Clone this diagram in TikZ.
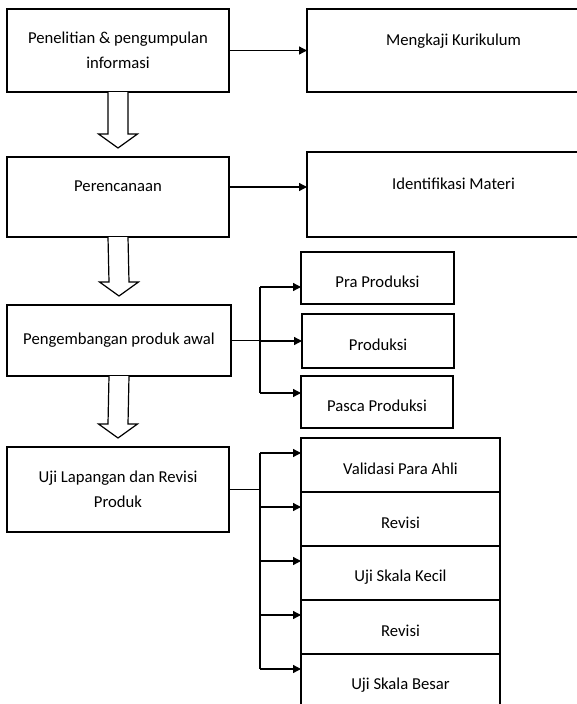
\documentclass[tikz,border=0pt]{standalone}
\usepackage{fontspec}
\setmainfont{Carlito}
\usetikzlibrary{positioning,arrows.meta}

\tikzset{every picture/.style={line width=1pt}}
\tikzset{
	box/.style={draw, rectangle, align=center, inner sep=0pt, outer sep=0pt, font=\fontsize{12.5pt}{18.75pt}\selectfont},
	toptext/.style={text depth=16pt},
	lowtext/.style={text height=15pt},
	stackbox/.style={box, lowtext, minimum width=149.25pt, minimum height=40.5pt},
	arr/.style={-{Triangle[length=6pt,width=6pt]}},
	hollow/.style={draw, fill=white, line width=0.9pt}
}

\begin{document}
\begin{tikzpicture}[x=0.75pt,y=0.75pt,yscale=-1,xscale=1]
	\useasboundingbox (0,0) rectangle (577,704);

	% Left column
	\node [box, minimum width=166.5pt, minimum height=62.25pt] (info) at (118,50.5) {Penelitian \& pengumpulan\\informasi};
	\node [box, toptext, minimum width=166.5pt, minimum height=60pt] (plan) at (118,197) {Perencanaan};
	\node [box, minimum width=168pt, minimum height=53.25pt] (dev) at (119,340.5) {Pengembangan produk awal};
	\node [box, minimum width=166.5pt, minimum height=63.75pt] (uji) at (118,489.5) {Uji Lapangan dan Revisi\\Produk};

	% Right column
	\node [box, toptext, minimum width=219.75pt, minimum height=62.25pt] (kaji) at (453.5,50.5) {Mengkaji Kurikulum};
	\node [box, toptext, minimum width=219.75pt, minimum height=63.75pt] (ident) at (453.5,194.5) {Identifikasi Materi};
	\node [box, lowtext, minimum width=114.75pt, minimum height=39pt] (pra) at (377.5,278) {Pra Produksi};
	\node [box, lowtext, minimum width=114pt, minimum height=40.5pt] (prod) at (378,341) {Produksi};
	\node [box, lowtext, minimum width=114pt, minimum height=39pt] (pasca) at (377,402) {Pasca Produksi};

	% Stack
	\node [stackbox] (val) at (400.5,465) {Validasi Para Ahli};
	\node [stackbox, below=0pt of val] (rev1) {Revisi};
	\node [stackbox, below=0pt of rev1] (kecil) {Uji Skala Kecil};
	\node [stackbox, below=0pt of kecil] (rev2) {Revisi};
	\node [stackbox, below=0pt of rev2] (besar) {Uji Skala Besar};

	% Hollow arrows
	\foreach \a/\b in {info/plan, plan/dev, dev/uji}
		\draw [hollow] ([xshift=-7.5pt]\a.south) -- ([xshift=-7.5pt,yshift=-17.25pt]\b.north) -- ([xshift=-14.6pt,yshift=-17.25pt]\b.north) -- ([yshift=-6.75pt]\b.north) -- ([xshift=14.6pt,yshift=-17.25pt]\b.north) -- ([xshift=7.5pt,yshift=-17.25pt]\b.north) -- ([xshift=7.5pt]\a.south);

	% Straight arrows
	\draw [arr] (info.east) -- (info.east -| kaji.west);
	\coordinate (a2) at ([yshift=-7.5pt]plan.east);
	\draw [arr] (a2) -- (a2 -| ident.west);

	% Branch to production steps
	\coordinate (j1) at ([xshift=21.75pt]dev.east);
	\coordinate (in-pra) at ([yshift=6.75pt]pra.west);
	\coordinate (in-prod) at (prod.west);
	\coordinate (in-pasca) at ([yshift=-6.75pt]pasca.west);
	\draw (dev.east) -- (j1);
	\draw (in-pra -| j1) -- (in-pasca -| j1);
	\foreach \r in {pra, prod, pasca}
		\draw [arr] (in-\r -| j1) -- (in-\r);

	% Branch to test steps
	\coordinate (j2) at ([xshift=23.25pt]uji.east);
	\foreach \r in {val, rev1, kecil, rev2, besar}
		\coordinate (in-\r) at ([yshift=11.25pt]\r.north west);
	\draw (uji.east) -- (j2);
	\draw (in-val -| j2) -- (in-besar -| j2);
	\foreach \r in {val, rev1, kecil, rev2, besar}
		\draw [arr] (in-\r -| j2) -- (in-\r);

\end{tikzpicture}
\end{document}
